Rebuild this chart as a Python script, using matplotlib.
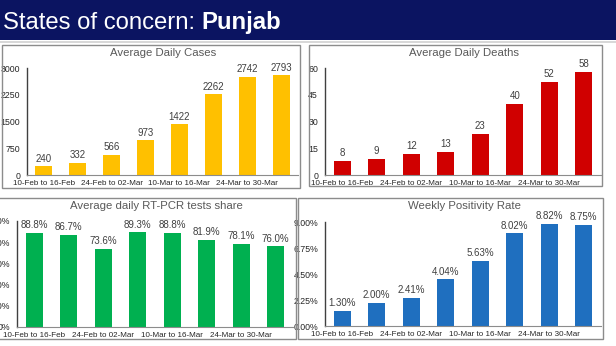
import matplotlib.pyplot as plt
from matplotlib.patches import Rectangle

W, H = 616, 346

weeks = ["10-Feb to 16-Feb", "17-Feb to 23-Feb", "24-Feb to 02-Mar", "03-Mar to 09-Mar",
         "10-Mar to 16-Mar", "17-Mar to 23-Mar", "24-Mar to 30-Mar", "31-Mar to 06-Apr"]
cases = [240, 332, 566, 973, 1422, 2262, 2742, 2793]
deaths = [8, 9, 12, 13, 23, 40, 52, 58]
rtpcr = [88.8, 86.7, 73.6, 89.3, 88.8, 81.9, 78.1, 76.0]
positivity = [1.30, 2.00, 2.41, 4.04, 5.63, 8.02, 8.82, 8.75]

cases_ticks = [0, 750, 1500, 2250, 3000]
deaths_ticks = [0, 15, 30, 45, 60]
rtpcr_ticks = [0, 20, 40, 60, 80, 100]
pos_ticks = [0, 2.25, 4.5, 6.75, 9.0]

FONT = "Liberation Sans"


def rect(x0, y0, x1, y1):
    # pixel box -> figure fraction
    return [x0 / W, 1 - y1 / H, (x1 - x0) / W, (y1 - y0) / H]


fig = plt.figure(figsize=(W / 100, H / 100), dpi=100)
fig.patch.set_facecolor("white")

# title bar
fig.patches.append(Rectangle((0, 1 - 40 / H), 1, 40 / H, transform=fig.transFigure,
                             facecolor="#0b1461", edgecolor="none"))
fig.patches.append(Rectangle((0, 1 - 43 / H), 1, 2 / H, transform=fig.transFigure,
                             facecolor="#d8d8d8", edgecolor="none"))
t1 = fig.text(3 / W, 1 - 29 / H, "States of concern: ", color="white", fontsize=17.2,
              family=FONT, va="baseline")
fig.canvas.draw()
bb = t1.get_window_extent()
fig.text(bb.x1 / W, 1 - 29 / H, "Punjab", color="white", fontsize=17.2,
         family=FONT, weight="bold", va="baseline")

# panel borders
for (x0, y0, x1, y1) in [(2, 45, 300, 188), (309, 45, 602, 186), (-5, 198, 296, 339), (298, 198, 603, 339)]:
    fig.patches.append(Rectangle((x0 / W, 1 - y1 / H), (x1 - x0) / W, (y1 - y0) / H,
                                 transform=fig.transFigure, facecolor="none",
                                 edgecolor="#8c8c8c", linewidth=1))

panels = [
    (rect(27, 68, 298, 175), cases, "#ffc000", cases_ticks, lambda v: f"{v}", lambda v: f"{v}",
     "Average Daily Cases", (163, 53)),
    (rect(325, 68, 601, 175), deaths, "#d00000", deaths_ticks, lambda v: f"{v}", lambda v: f"{v}",
     "Average Daily Deaths", (464, 53)),
    (rect(17, 221, 293, 327), rtpcr, "#00b050", rtpcr_ticks, lambda v: f"{v:.0f}%", lambda v: f"{v:.1f}%",
     "Average daily RT-PCR tests share", (156, 206)),
    (rect(325, 222, 601, 326), positivity, "#1f6fbf", pos_ticks, lambda v: f"{v:.2f}%", lambda v: f"{v:.2f}%",
     "Weekly Positivity Rate", (464, 206)),
]

for pos, vals, col, yt, tickfmt, valfmt, title, (tx, ty) in panels:
    ax = fig.add_axes(pos)
    x = list(range(len(vals)))
    ax.bar(x, vals, width=0.5, color=col)
    ax.set_xlim(-0.5, len(vals) - 0.5)
    ax.set_ylim(yt[0], yt[-1])
    ax.set_yticks(yt)
    ax.set_yticklabels([tickfmt(v) for v in yt], fontsize=6.3, family=FONT, color="#262626")
    ax.set_xticks(x[::2])
    ax.set_xticklabels(weeks[::2], fontsize=5.8, family=FONT, color="#262626")
    ax.tick_params(axis="y", length=0, pad=5)
    ax.tick_params(axis="x", length=0, pad=3.8)
    for s in ["top", "right"]:
        ax.spines[s].set_visible(False)
    ax.spines["left"].set_color("#404040")
    ax.spines["left"].set_linewidth(1)
    ax.spines["bottom"].set_color("#8c8c8c")
    ax.spines["bottom"].set_linewidth(0.8)
    ax.patch.set_alpha(0)
    for xi, v in zip(x, vals):
        ax.annotate(valfmt(v), (xi, v), xytext=(0, 2), textcoords="offset points",
                    ha="center", va="bottom", fontsize=7, family=FONT, color="#404040")
    fig.text(tx / W, 1 - ty / H, title, ha="center", va="center", fontsize=8.2,
             family=FONT, color="#595959")

fig.savefig("out.png", dpi=100)
